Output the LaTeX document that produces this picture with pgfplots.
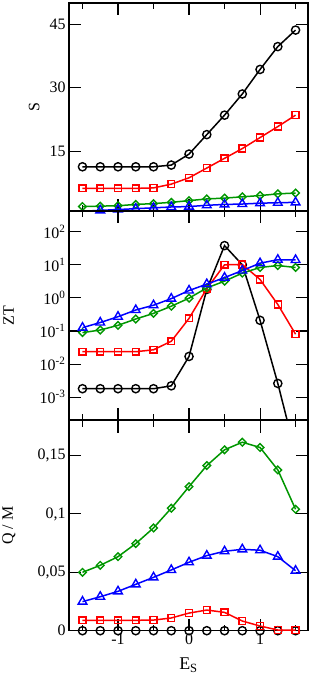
\documentclass[border=0pt]{standalone}
\usepackage{fontspec}
\setmainfont{Liberation Serif}
\usepackage{pgfplots}
\pgfplotsset{compat=1.18}
\definecolor{cblack}{RGB}{0,0,0}
\definecolor{cred}{RGB}{255,0,0}
\definecolor{cgreen}{RGB}{0,150,0}
\definecolor{cblue}{RGB}{0,0,255}
\pgfplotsset{
  myaxis/.style={
    scale only axis, width=239bp,
    xmin=-1.69, xmax=1.675,
    xtick={-1,0,1}, minor xtick={-1.5,-0.5,0.5,1.5},
    tick align=inside, xtick pos=both, ytick pos=both,
    major tick length=12bp, minor tick length=6bp,
    axis line style={line width=1.1bp},
    every tick/.style={line width=1.1bp, black},
    tick label style={font=\fontsize{16}{19}\selectfont},
    label style={font=\fontsize{16}{19}\selectfont},
    clip mode=individual,
    every axis plot/.append style={line width=1.5bp},
  },
  sblack/.style={color=cblack, mark=o, mark size=4.1bp, mark options={line width=1.4bp}},
  sred/.style={color=cred, mark=square, mark size=3.4bp, mark options={line width=1.4bp}},
  sgreen/.style={color=cgreen, mark=square, mark size=2.7bp, mark options={rotate=45,line width=1.4bp}},
  sblue/.style={color=cblue, mark=triangle, mark size=5bp, mark options={line width=1.4bp}},
}
\begin{document}
\begin{tikzpicture}
% ---------- top panel: S ----------
\begin{axis}[myaxis, name=top, at={(0,0)}, anchor=north west,
  height=208bp, ymin=0.85, ymax=50,
  ytick={15,30,45}, yticklabels={15,30,45},
  xticklabels={},
  ylabel={S}, ylabel style={at={(axis description cs:-0.146,0.5)}, anchor=center},
]
\addplot[sblack] coordinates {(-1.5,11.3)(-1.25,11.3)(-1,11.3)(-0.75,11.3)(-0.5,11.3)(-0.25,11.7)(0,14.3)(0.25,18.9)(0.5,23.5)(0.75,28.5)(1,34.3)(1.25,39.7)(1.5,43.6)};
\addplot[sred] coordinates {(-1.5,6.2)(-1.25,6.2)(-1,6.2)(-0.75,6.2)(-0.5,6.3)(-0.25,7.2)(0,8.7)(0.25,11.0)(0.5,13.3)(0.75,15.6)(1,18.2)(1.25,20.8)(1.5,23.5)};
\addplot[sgreen] coordinates {(-1.5,1.9)(-1.25,2.0)(-1,2.1)(-0.75,2.4)(-0.5,2.6)(-0.25,2.9)(0,3.3)(0.25,3.7)(0.5,3.9)(0.75,4.2)(1,4.5)(1.25,4.9)(1.5,5.1)};
\addplot[sblue] coordinates {(-1.5,0.8)(-1.25,1.0)(-1,1.2)(-0.75,1.4)(-0.5,1.6)(-0.25,1.8)(0,1.9)(0.25,2.2)(0.5,2.4)(0.75,2.5)(1,2.7)(1.25,2.8)(1.5,2.9)};
\end{axis}
% ---------- middle panel: ZT ----------
\begin{axis}[myaxis, name=mid, at={(0,-208bp)}, anchor=north west,
  height=209bp, ymode=log, ymin=2.04e-4, ymax=422,
  ytick={1e-3,1e-2,1e-1,1,10,100},
  yticklabels={10\textsuperscript{-3},10\textsuperscript{-2},10\textsuperscript{-1},10\textsuperscript{0},10\textsuperscript{1},10\textsuperscript{2}},
  yminorticks=false,
  xticklabels={},
  ylabel={ZT}, ylabel style={at={(axis description cs:-0.252,0.5)}, anchor=center},
]
\addplot[color=cblack, no marks] coordinates {(-1.5,1.8e-3)(-1.25,1.8e-3)(-1,1.8e-3)(-0.75,1.8e-3)(-0.5,1.8e-3)(-0.25,2.2e-3)(0,0.017)(0.25,1.8)(0.5,38)(0.75,10)(1,0.21)(1.25,2.6e-3)(1.5,2e-5)};
\addplot[sblack, only marks] coordinates {(-1.5,1.8e-3)(-1.25,1.8e-3)(-1,1.8e-3)(-0.75,1.8e-3)(-0.5,1.8e-3)(-0.25,2.2e-3)(0,0.017)(0.25,1.8)(0.5,38)(0.75,10)(1,0.21)(1.25,2.6e-3)};
\addplot[sred] coordinates {(-1.5,0.0236)(-1.25,0.0236)(-1,0.0236)(-0.75,0.0236)(-0.5,0.027)(-0.25,0.049)(0,0.24)(0.25,1.9)(0.5,10)(0.75,10.2)(1,3.6)(1.25,0.63)(1.5,0.08)};
\addplot[sgreen] coordinates {(-1.5,0.089)(-1.25,0.107)(-1,0.148)(-0.75,0.23)(-0.5,0.34)(-0.25,0.56)(0,0.98)(0.25,2.0)(0.5,3.2)(0.75,5.6)(1,8.3)(1.25,9.5)(1.5,8.3)};
\addplot[sblue] coordinates {(-1.5,0.126)(-1.25,0.18)(-1,0.27)(-0.75,0.43)(-0.5,0.6)(-0.25,0.95)(0,1.67)(0.25,2.6)(0.5,4.1)(0.75,6.7)(1,11.2)(1.25,14.2)(1.5,14)};
\end{axis}
% ---------- bottom panel: Q/M ----------
\begin{axis}[myaxis, name=bot, at={(0,-417.5bp)}, anchor=north west,
  height=210.2bp, ymin=0, ymax=0.18,
  ytick={0,0.05,0.1,0.15}, yticklabels={0,{0,05},{0,1},{0,15}},
  xticklabels={-1,0,1},
  ylabel={Q / M}, ylabel style={at={(axis description cs:-0.252,0.5)}, anchor=center},
  xlabel={E\textsubscript{S}}, xlabel style={at={(axis description cs:0.5,-0.163)}, anchor=center, font=\fontsize{18}{21}\selectfont},
]
\addplot[sblack] coordinates {(-1.5,0)(-1.25,0)(-1,0)(-0.75,0)(-0.5,0)(-0.25,0)(0,0)(0.25,0)(0.5,0)(0.75,0)(1,0)(1.25,0)(1.5,0)};
\addplot[sred] coordinates {(-1.5,0.0089)(-1.25,0.0089)(-1,0.0089)(-0.75,0.0089)(-0.5,0.0091)(-0.25,0.0109)(0,0.0151)(0.25,0.0177)(0.5,0.0157)(0.75,0.0083)(1,0.004)(1.25,0.0006)(1.5,0.0005)};
\addplot[sgreen] coordinates {(-1.5,0.05)(-1.25,0.056)(-1,0.0634)(-0.75,0.0746)(-0.5,0.088)(-0.25,0.1049)(0,0.1234)(0.25,0.1414)(0.5,0.1549)(0.75,0.1614)(1,0.1569)(1.25,0.1377)(1.5,0.104)};
\addplot[sblue] coordinates {(-1.5,0.0249)(-1.25,0.0291)(-1,0.0337)(-0.75,0.0397)(-0.5,0.0457)(-0.25,0.052)(0,0.0586)(0.25,0.0643)(0.5,0.068)(0.75,0.0697)(1,0.0689)(1.25,0.0634)(1.5,0.0514)};
\end{axis}
\pgfresetboundingbox
\path (-69bp,3bp) rectangle (243bp,-673bp);
\end{tikzpicture}
\end{document}
